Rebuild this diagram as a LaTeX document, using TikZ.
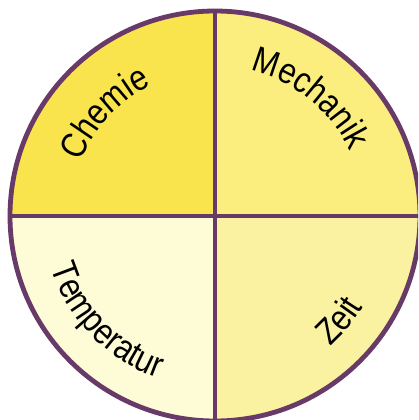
\documentclass[tikz,border=0pt]{standalone}
\usepackage{fontspec}
\setmainfont{Liberation Sans}
\newfontfamily\labelface[FakeStretch=0.86]{Liberation Sans}
\usetikzlibrary{decorations.text}
\definecolor{rim}{RGB}{104,58,104}
\definecolor{chemiefill}{RGB}{249,228,78}
\definecolor{mechanikfill}{RGB}{251,238,126}
\definecolor{temperaturfill}{RGB}{254,252,214}
\definecolor{zeitfill}{RGB}{250,242,160}
\newcommand{\labelfont}{\labelface\fontsize{36}{42}\selectfont}

\begin{document}
\begin{tikzpicture}[x=1pt,y=1pt,
  rimline/.style={draw=rim, line width=4.8pt},
  arclabel/.style={decorate, decoration={text along path, text align=center,
      text={|\labelfont|#1}}}]
  \useasboundingbox (-215,-204) rectangle (203,216);
  \clip (-215,-204) rectangle (203,216);
  \coordinate (centre) at (0,0);
  % quadrants
  \fill[chemiefill] (centre) -- (180:205) arc[start angle=180, end angle=90, radius=205] -- cycle;
  \fill[mechanikfill] (centre) -- (90:205) arc[start angle=90, end angle=0, radius=205] -- cycle;
  \fill[temperaturfill] (centre) -- (180:205) arc[start angle=180, end angle=270, radius=205] -- cycle;
  \fill[zeitfill] (centre) -- (270:205) arc[start angle=270, end angle=360, radius=205] -- cycle;
  % rim and cross
  \draw[rimline] (centre) circle[radius=205];
  \draw[rimline] (180:205) -- (0:205);
  \draw[rimline] (90:205) -- (270:205);
  % labels
  \path[arclabel=Chemie] (182:145) arc[start angle=182, end angle=92, radius=145];
  \path[arclabel=Mechanik] (96:150) arc[start angle=96, end angle=6, radius=150];
  \path[arclabel=Temperatur] (179:172) arc[start angle=179, end angle=269, radius=172];
  \path[arclabel=Zeit] (-85:174) arc[start angle=-85, end angle=5, radius=174];
\end{tikzpicture}
\end{document}
